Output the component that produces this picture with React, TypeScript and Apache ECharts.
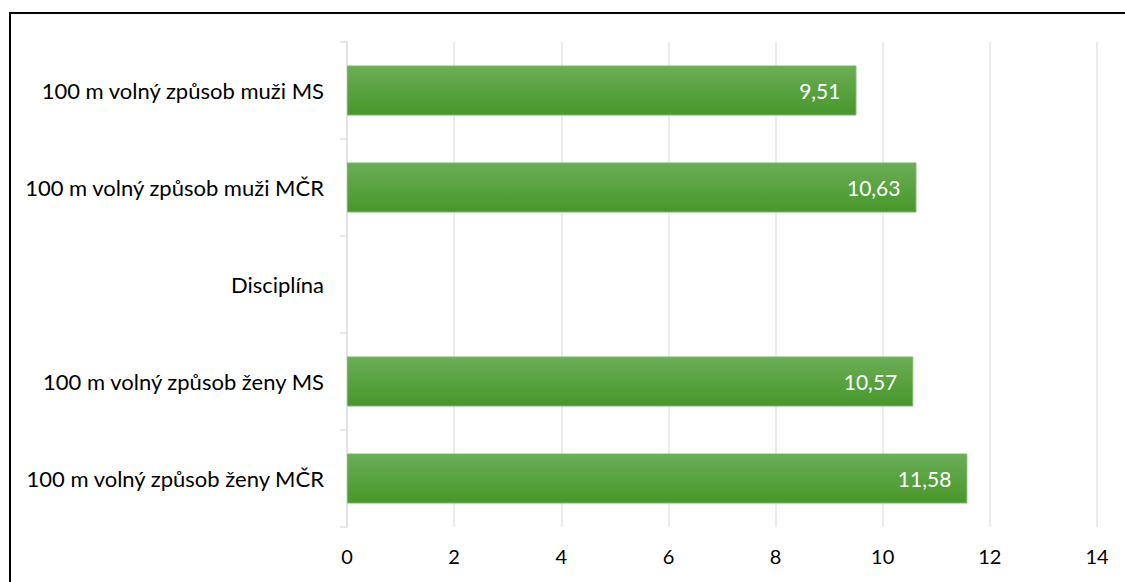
import React, { useEffect, useRef } from "react";
import * as echarts from "echarts";

const categories = [
  "100 m volný způsob muži MS",
  "100 m volný způsob muži MČR",
  "Disciplína",
  "100 m volný způsob ženy MS",
  "100 m volný způsob ženy MČR",
];
const values: (number | null)[] = [9.51, 10.63, null, 10.57, 11.58];
const xTicks = { min: 0, max: 14, interval: 2 };

export default function App() {
  const ref = useRef<HTMLDivElement>(null);
  useEffect(() => {
    if (!ref.current) return;
    const chart = echarts.init(ref.current, null, { renderer: "svg" });
    const font = "Lato, 'Liberation Sans', sans-serif";
    chart.setOption({
      animation: false,
      backgroundColor: "#ffffff",
      graphic: [
        {
          type: "rect",
          shape: { x: 10, y: 13, width: 1300, height: 800 },
          style: { fill: "none", stroke: "#000000", lineWidth: 2 },
          silent: true,
        },
      ],
      grid: { left: 347, right: 28, top: 42, bottom: 55, containLabel: false },
      xAxis: {
        type: "value",
        min: xTicks.min,
        max: xTicks.max,
        interval: xTicks.interval,
        axisLine: { show: false },
        axisTick: { show: false },
        splitLine: { show: true, lineStyle: { color: "#e2e6e6", width: 1.5 } },
        axisLabel: { color: "#000000", fontSize: 20, fontFamily: font, margin: 19 },
      },
      yAxis: {
        type: "category",
        data: categories,
        inverse: true,
        axisLine: { show: true, lineStyle: { color: "#dde2e2", width: 1.5 } },
        axisTick: { show: true, length: 7, lineStyle: { color: "#dde2e2", width: 1.5 } },
        axisLabel: { color: "#000000", fontSize: 22, fontFamily: font, margin: 23 },
      },
      series: [
        {
          type: "bar",
          data: values.map((v) => (v === null ? "-" : v)),
          barWidth: 50,
          itemStyle: {
            color: new echarts.graphic.LinearGradient(0, 0, 0, 1, [
              { offset: 0, color: "#6bad57" },
              { offset: 1, color: "#47972a" },
            ]),
            borderColor: "#79b866",
            borderWidth: 1,
          },
          label: {
            show: true,
            position: "insideRight",
            distance: 16,
            color: "#ffffff",
            fontSize: 21,
            fontFamily: font,
            formatter: (p: any) => String(p.value).replace(".", ","),
          },
        },
      ],
    });
    return () => chart.dispose();
  }, []);
  return (
    <div
      ref={ref}
      style={{ position: "fixed", left: 0, top: 0, width: 1125, height: 582 }}
    />
  );
}
